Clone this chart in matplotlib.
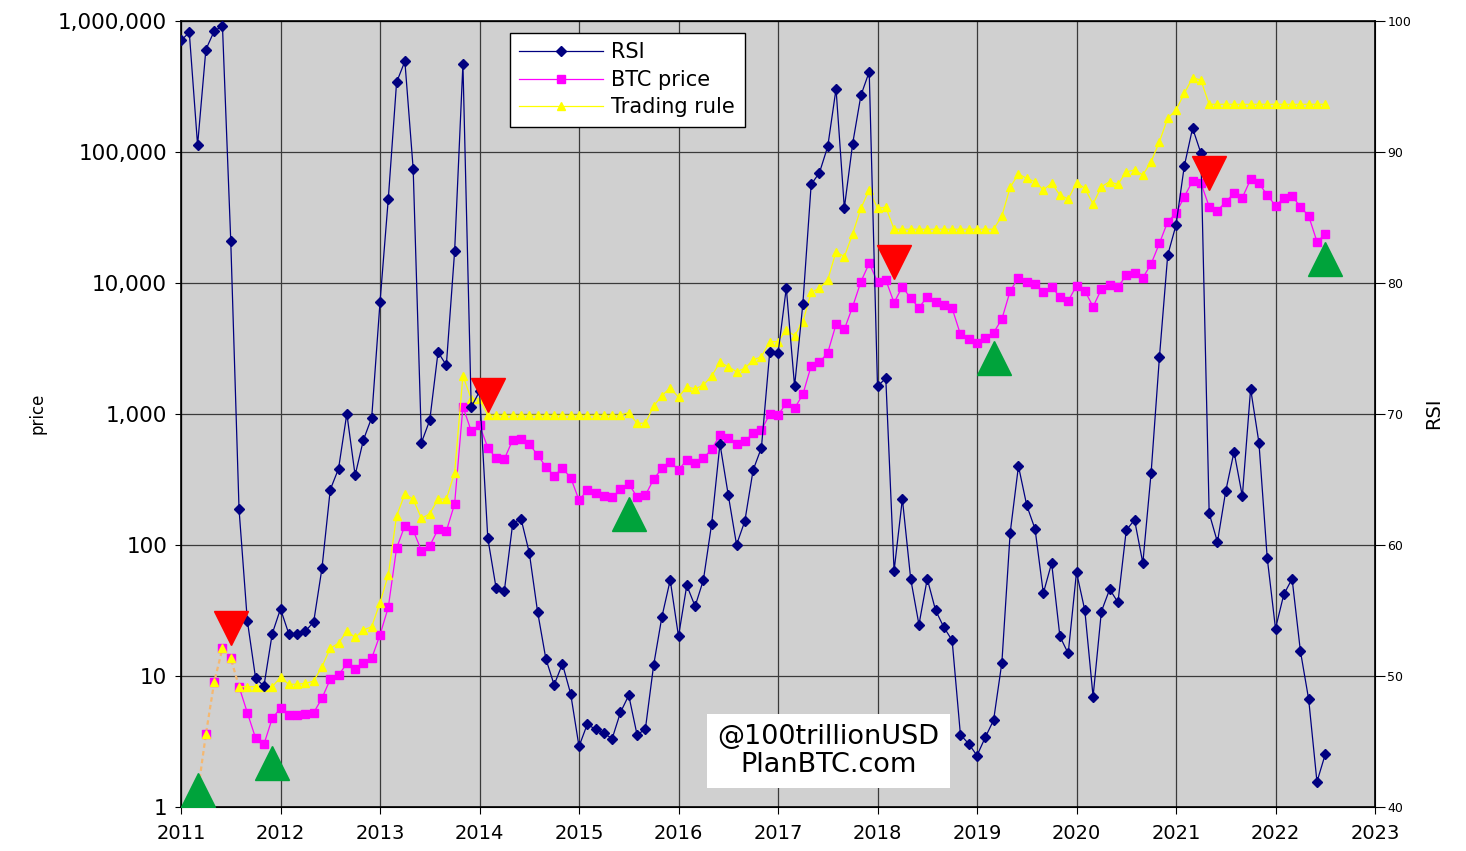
import numpy as np
import matplotlib
matplotlib.use('Agg')
import matplotlib.pyplot as plt
from matplotlib.ticker import FuncFormatter, FixedLocator, NullLocator

# monthly data, month index 0 = Jan 2011
rsi_start = 0
rsi = [98.5, 99.1, 90.5, 97.8, 99.2, 99.6, 83.2, 62.7, 54.2, 49.8, 49.2, 53.2,
       55.1, 53.2, 53.2, 53.4, 54.1, 58.2, 64.2, 65.8, 70.0, 65.3, 68.0, 69.7,
       78.5, 86.4, 95.3, 96.9, 88.7, 67.8, 69.5, 74.7, 73.7, 82.4, 96.7, 70.5,
       71.7, 60.5, 56.7, 56.5, 61.6, 62.0, 59.4, 54.9, 51.3, 49.3, 50.9, 48.6,
       44.6, 46.3, 45.9, 45.6, 45.2, 47.2, 48.5, 45.5, 45.9, 50.8, 54.5, 57.3,
       53.0, 56.9, 55.3, 57.3, 61.6, 67.7, 63.8, 60.0, 61.8, 65.7, 67.4, 74.7,
       74.6, 79.6, 72.1, 78.4, 87.5, 88.4, 90.4, 94.8, 85.7, 90.6, 94.3, 96.1,
       72.1, 72.7, 58.0, 63.5, 57.4, 53.9, 57.4, 55.0, 53.7, 52.7, 45.5, 44.8,
       43.9, 45.3, 46.6, 51.0, 60.9, 66.0, 63.0, 61.2, 56.3, 58.6, 53.0, 51.7,
       57.9, 55.0, 48.4, 54.9, 56.6, 55.6, 61.1, 61.9, 58.6, 65.5, 74.3, 82.1,
       84.4, 88.9, 91.8, 89.9, 62.4, 60.2, 64.1, 67.1, 63.7, 71.9, 67.8, 59.0,
       53.6, 56.2, 57.4, 51.9, 48.2, 41.9, 44.0]

price_start = 2
price = [1.25, 3.57, 8.9, 16.2, 13.6, 8.24, 5.22, 3.33, 2.99, 4.73,
         5.64, 4.98, 4.98, 5.06, 5.22, 6.72, 9.4, 10.1, 12.4, 11.3, 12.4, 13.6,
         20.5, 33.3, 94, 140, 129, 90, 98, 131, 127, 205, 1130, 738,
         820, 550, 457, 451, 630, 641, 588, 484, 394, 336, 383, 325,
         219, 260, 249, 237, 230, 265, 291, 232, 238, 316, 383, 430,
         372, 443, 418, 457, 535, 687, 649, 584, 615, 708, 751, 989,
         977, 1200, 1100, 1405, 2320, 2470, 2920, 4810, 4400, 6560, 10180, 14070,
         10180, 10500, 7040, 9330, 7600, 6440, 7820, 7160, 6760, 6380, 4040, 3720,
         3440, 3800, 4150, 5280, 8650, 10900, 10180, 9780, 8450, 9330, 7740, 7250,
         9490, 8690, 6560, 8910, 9600, 9220, 11450, 11800, 10900, 13900, 19990, 29200,
         33900, 45300, 59700, 57900, 38000, 35500, 41500, 48100, 44600, 61500, 57400, 46700,
         38700, 44100, 45900, 38000, 32300, 20600, 23400]

rule = [1.25, 3.57, 8.9, 16.2, 13.6, 8.24, 8.24, 8.24, 8.24, 8.24,
        9.72, 8.6, 8.6, 8.75, 9.1, 11.7, 16.2, 17.7, 21.9, 19.6, 22.3, 23.7,
        36.1, 58.7, 166, 244, 222, 159, 172, 223, 223, 355, 1950, 1295,
        1300] + [975] * 17 + [
        1018, 845, 845, 1145, 1372, 1578,
        1334, 1607, 1545, 1656, 1940, 2467, 2285, 2093, 2221, 2570, 2722, 3548,
        3548, 4355, 3940, 5040, 8450, 9060, 10500, 17250, 15800, 23540, 37000, 51000,
        37000, 37700] + [25600] * 13 + [
        32300, 53500, 67600, 62600, 59000, 51000, 57400, 46700, 43500,
        58000, 52600, 39900, 54100, 59000, 56300, 70300, 72400, 66400, 83900, 119200, 179700,
        208000, 279000, 367000, 352700] + [230000] * 15

# signal markers (month index, price level)
buy_month = [2, 11, 54, 98, 138]
buy_level = [1.34, 2.14, 173, 2685, 15300]
sell_month = [6, 37, 86, 124]
sell_level = [23.3, 1390, 14500, 68800]

years = list(range(2011, 2024))
price_ticks = [1, 10, 100, 1000, 10000, 100000, 1000000]
rsi_ticks = [40, 50, 60, 70, 80, 90, 100]


def to_year(start, n):
    return 2011 + (start + np.arange(n)) / 12.0


x_rsi = to_year(rsi_start, len(rsi))
x_price = to_year(price_start, len(price))
x_rule = to_year(price_start, len(rule))
k = 7 - price_start  # rule and price coincide before this point

fig = plt.figure(figsize=(14.66, 8.51), dpi=100)
ax = fig.add_axes([181/1466, 1-806.7/851, 1194/1466, 786/851])
ax.set_facecolor('#d0d0d0')
ax.set_yscale('log')
ax.set_ylim(1, 1e6)
ax.set_xlim(2011, 2023)
ax.set_axisbelow(True)
ax.grid(True, color='#3a3a3a', linewidth=0.9)

# early part, price and rule identical -> orange dashed
ax.plot(x_rule[:k+1], rule[:k+1], color='#f5b870', lw=1.6, ls=(0, (2, 1.5)), zorder=2)
ax.plot(x_price[k:], price[k:], color='#ff00ff', lw=0.9, zorder=2)
ax.plot(x_price, price, ls='none', marker='s', ms=6, color='#ff00ff', zorder=3)
ax.plot(x_rule[k:], rule[k:], color='#ffff00', lw=0.9, zorder=4)
ax.plot(x_rule, rule, ls='none', marker='^', ms=6.2, color='#ffff00', zorder=5)

ax.yaxis.set_major_locator(FixedLocator(price_ticks))
ax.yaxis.set_minor_locator(NullLocator())
ax.yaxis.set_major_formatter(FuncFormatter(lambda v, p: f'{v:,.0f}'))
ax.set_xticks(years)
ax.xaxis.set_major_formatter(FuncFormatter(lambda v, p: f'{int(v)}'))
ax.tick_params(axis='y', labelsize=15.5, length=4, pad=6)
ax.tick_params(axis='x', labelsize=14, length=5, pad=7.5)
fig.text(38/1466, 1-413/851, 'price', rotation=90, ha='center', va='center', fontsize=12)

ax2 = ax.twinx()
ax2.set_ylim(40, 100)
ax2.set_yticks(rsi_ticks)
ax2.tick_params(axis='y', labelsize=9, length=7, pad=2)
ax2.plot(x_rsi, rsi, color='#000080', lw=0.9, marker='D', ms=5.2, label='RSI', zorder=3)
ax2.set_ylabel('RSI', fontsize=14, labelpad=9)

# buy / sell signals, on top, in price coordinates
ax2.plot(2011 + np.array(sell_month) / 12.0, sell_level, ls='none', marker='v', ms=25,
         color='#ff0000', transform=ax.transData, zorder=6)
ax2.plot(2011 + np.array(buy_month) / 12.0, buy_level, ls='none', marker='^', ms=25,
         color='#00a33b', transform=ax.transData, zorder=6)
ax2.set_ylim(40, 100)

for s in ax2.spines.values():
    s.set_linewidth(1.2)

h_rsi = plt.Line2D([], [], color='#000080', lw=0.9, marker='D', ms=5.2)
h_price = plt.Line2D([], [], color='#ff00ff', lw=0.9, marker='s', ms=6)
h_rule = plt.Line2D([], [], color='#ffff00', lw=0.9, marker='^', ms=6.2)
leg = ax2.legend([h_rsi, h_price, h_rule], ['RSI', 'BTC price', 'Trading rule'],
                 loc='upper left', bbox_to_anchor=(329/1194, 1-12.3/786),
                 borderaxespad=0, fontsize=15, handlelength=4, handletextpad=0.42,
                 labelspacing=0.36, borderpad=0.45, fancybox=False, framealpha=1,
                 edgecolor='black')
leg.get_frame().set_linewidth(1)
leg.set_zorder(10)

ax2.text(647.5/1194, 1-(751-20.7)/786, '@100trillionUSD\nPlanBTC.com',
         transform=ax2.transAxes, ha='center', va='center', fontsize=19.5,
         linespacing=1.1, zorder=11,
         bbox=dict(boxstyle='square,pad=0.38', facecolor='white', edgecolor='none'))

fig.savefig('out.png', dpi=100)
